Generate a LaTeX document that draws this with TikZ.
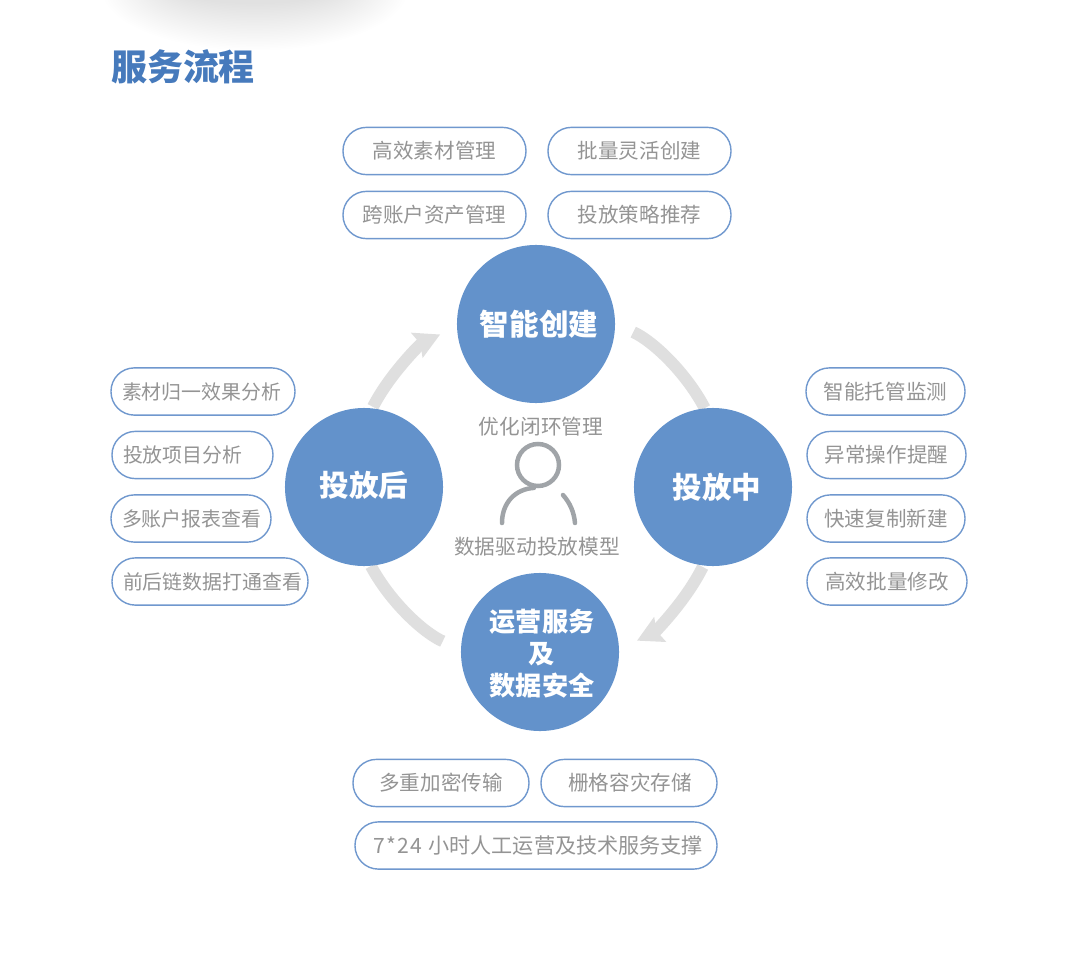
\documentclass[tikz,border=0pt]{standalone}
\usepackage{fontspec}
\usepackage{xcolor}
\usetikzlibrary{arrows.meta, positioning}
\setmainfont{Noto Sans CJK SC}
\definecolor{mainblue}{RGB}{99,146,203}
\definecolor{titleblue}{RGB}{70,122,188}
\definecolor{pillblue}{RGB}{112,152,206}
\definecolor{textgray}{RGB}{148,148,148}
\definecolor{icongray}{RGB}{160,164,168}
\definecolor{ringgray}{RGB}{223,223,223}
\pgfdeclarelayer{ringlayer}
\pgfsetlayers{ringlayer,main}
\tikzset{
    pill/.style={draw=pillblue, line width=1pt, fill=white, rounded corners=16.6pt, minimum height=1.18cm, inner xsep=0pt, inner ysep=0pt, text=textgray, font=\fontsize{14.6}{17}\selectfont},
    phase/.style={circle, fill=mainblue, minimum size=3.95cm, inner sep=0pt, text=white, align=center, font=\bfseries\fontsize{21}{26}\selectfont},
    ring/.style={draw=ringgray, line width=8.5pt},
    head tip/.style={-{Stealth[length=18pt,width=19pt,inset=2.5pt]}},
    caption/.style={text=textgray, font=\fontsize{14.7}{17}\selectfont},
    icon/.style={draw=icongray, line width=3.2pt, line cap=round}
}
\newcommand{\pillbox}[4]{
    \node[pill, minimum width=#3*0.025cm] (#1) at (#2) {\raisebox{-1.2pt}{#4}};
}
\newcommand{\pillleft}[4]{
    \node[pill, text width=#3*0.025cm-0.55cm, inner xsep=0.275cm, align=left, font=\fontsize{14.15}{17}\selectfont] (#1) at (#2) {\raisebox{-1.2pt}{#4}};
}
\begin{document}
\begin{tikzpicture}[x=0.025cm, y=-0.025cm]
    \useasboundingbox (0,0) rectangle (1080,953);
    \begin{scope}
        \clip (0,0) rectangle (1080,953);
        \foreach \k in {1,...,30}{
            \fill[black, opacity=0.0016] (560,-8) ellipse ({450-\k*3} and {38-\k*1});
            \fill[black, opacity=0.0052] (255,-10) ellipse ({155-\k*2.6} and {62-\k*1.6});
        }
    \end{scope}

    \node[text=titleblue, font=\bfseries\fontsize{25.6}{30}\selectfont] (title) at (183,66.5) {服务流程};

    \node[phase] (create) at (536,324) {\hspace{0.15cm}智能创建};
    \node[phase] (during) at (713,487) {\hspace{0.2cm}投放中};
    \node[phase] (after) at (364,487) {\raisebox{5pt}{投放后}};
    \node[phase, font=\bfseries\fontsize{18.6}{22.8}\selectfont] (ops) at (540,652) {\hspace*{0.1cm}\rule{0pt}{18.5pt}运营服务\\\hspace*{0.1cm}及\\\hspace*{0.1cm}数据安全};

    \begin{pgfonlayer}{ringlayer}
        \draw[ring, shorten <=14pt] (create.0) to[bend left=19, looseness=0.85] (during.96);
        \draw[ring, shorten <=1pt, shorten >=14pt, head tip] (during.-97) to[bend left=19, looseness=0.85] (ops.2);
        \draw[ring, shorten <=14pt] (ops.178) to[bend left=19, looseness=0.85] (after.-85);
        \draw[ring, shorten <=1pt, shorten >=13pt, head tip] (after.84) to[bend left=19, looseness=0.85] (create.182);
    \end{pgfonlayer}

    \pillbox{matlib}{434.5,151}{183}{\raisebox{-2pt}{高效素材管理}}
    \pillbox{bulk}{639.5,151}{183}{\raisebox{-2pt}{批量灵活创建}}
    \pillbox{asset}{434.5,215}{183}{跨账户资产管理}
    \pillbox{strategy}{639.5,215}{183}{投放策略推荐}

    \pillbox{monitor}{885.5,391.5}{159}{智能托管监测}
    \pillbox{alert}{886.5,455}{159}{异常操作提醒}
    \pillbox{copy}{886,518.5}{158}{快速复制新建}
    \pillbox{modify}{887,581.5}{160}{高效批量修改}

    \pillleft{effect}{203,391.5}{184}{素材归一效果分析}
    \pillleft{project}{192.5,455}{161}{投放项目分析}
    \pillleft{report}{191,518.5}{160}{多账户报表查看}
    \pillleft{chain}{210,581.5}{196}{前后链数据打通查看}

    \pillbox{encrypt}{441,783}{176}{多重加密传输}
    \pillbox{storage}{629,783}{176}{\hspace{0.05cm}栅格容灾存储}
    \node[pill, minimum width=362*0.025cm, font=\fontsize{15}{17}\selectfont] (service) at (536,845.5) {\raisebox{-1.2pt}{\hspace{0.1cm}7\kern1pt*\kern1pt2\kern1pt4\kern1pt\ 小时人工运营及技术服务支撑}};

    \node[caption] (loop) at (541,427) {优化闭环管理};
    \node[caption] (model) at (537,547) {数据驱动投放模型};

    \node[draw=icongray, line width=3.2pt, circle, minimum size=1.05cm, inner sep=0pt] (head) at (538,465) {};
    \coordinate (armL) at (502,523);
    \coordinate (armR) at (575,523);
    \coordinate (backR) at (563,495);
    \draw[icon] (armL) .. controls (502,503) and (515,489) .. (head.-100);
    \draw[icon] (armR) .. controls (574,512) and (570,503) .. (backR);
\end{tikzpicture}
\end{document}
